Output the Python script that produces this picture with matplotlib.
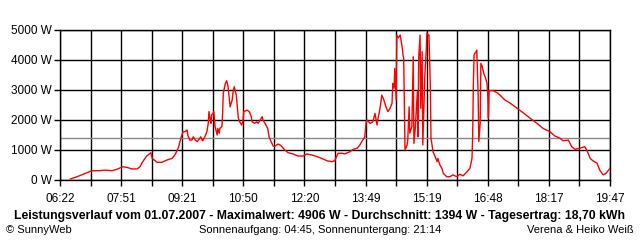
import numpy as np
import matplotlib
matplotlib.use('Agg')
import matplotlib.pyplot as plt

plt.rcParams['font.family'] = ['Liberation Sans', 'DejaVu Sans']

# Messwerte (Uhrzeit, Leistung in W)
zeiten = ['06:37', '06:47', '06:59', '07:09', '07:20', '07:28', '07:38', '07:45', '07:54', '08:00',
          '08:07', '08:15', '08:19', '08:23', '08:29', '08:35', '08:37', '08:44', '08:51', '08:59',
          '09:06', '09:10', '09:15', '09:19', '09:22', '09:25', '09:28', '09:29', '09:32', '09:35',
          '09:37', '09:40', '09:43', '09:44', '09:48', '09:50', '09:51', '09:54', '09:57', '09:59',
          '10:00', '10:02', '10:03', '10:04', '10:06', '10:07', '10:09', '10:12', '10:13', '10:15',
          '10:16', '10:19', '10:20', '10:21', '10:24', '10:26', '10:28', '10:29', '10:31', '10:34',
          '10:35', '10:37', '10:40', '10:41', '10:43', '10:45', '10:48', '10:50', '10:51', '10:56',
          '10:59', '11:02', '11:03', '11:07', '11:10', '11:12', '11:15', '11:18', '11:19', '11:22',
          '11:26', '11:28', '11:31', '11:34', '11:37', '11:41', '11:44', '11:47', '11:50', '11:51',
          '11:56', '12:03', '12:10', '12:18', '12:23', '12:31', '12:38', '12:45', '12:53', '13:00',
          '13:04', '13:09', '13:15', '13:19', '13:26', '13:31', '13:37', '13:41', '13:45', '13:48',
          '13:50', '13:51', '13:56', '14:00', '14:03', '14:06', '14:07', '14:10', '14:13', '14:16',
          '14:19', '14:22', '14:25', '14:28', '14:29', '14:31', '14:32', '14:34', '14:35', '14:37',
          '14:40', '14:43', '14:44', '14:45', '14:47', '14:50', '14:51', '14:53', '14:54', '14:57',
          '14:59', '15:00', '15:02', '15:05', '15:06', '15:07', '15:09', '15:10', '15:12', '15:13',
          '15:15', '15:16', '15:18', '15:19', '15:21', '15:22', '15:24', '15:25', '15:28', '15:31',
          '15:34', '15:35', '15:38', '15:41', '15:43', '15:48', '15:53', '15:57', '16:03', '16:07',
          '16:12', '16:18', '16:22', '16:25', '16:26', '16:27', '16:28', '16:31', '16:32', '16:34',
          '16:35', '16:37', '16:38', '16:40', '16:41', '16:43', '16:45', '16:47', '16:48', '16:49',
          '16:50', '16:56', '17:03', '17:06', '17:13', '17:21', '17:31', '17:40', '17:50', '18:00',
          '18:09', '18:19', '18:26', '18:34', '18:38', '18:46', '18:51', '18:56', '19:03', '19:10',
          '19:13', '19:18', '19:22', '19:28', '19:32', '19:37', '19:41', '19:47']
leistung = [30, 110, 220, 310, 310, 330, 310, 355, 440, 420,
            370, 370, 440, 610, 800, 910, 720, 590, 590, 670,
            720, 830, 1060, 1390, 1610, 1610, 1670, 1500, 1330, 1330,
            1440, 1330, 1280, 1310, 1440, 1330, 1310, 1440, 1610, 1890,
            2280, 2000, 1890, 2170, 2220, 2280, 1780, 1500, 1720, 1560,
            1720, 1780, 2220, 2890, 3220, 3310, 3110, 2890, 2440, 2670,
            2890, 3110, 2830, 2560, 2060, 1940, 1830, 2000, 2280, 2330,
            2280, 2110, 1940, 1890, 1940, 1890, 2000, 2110, 2000, 1890,
            1720, 1440, 1280, 1130, 1130, 1200, 1170, 1110, 1020, 1000,
            910, 870, 800, 800, 870, 830, 780, 720, 640, 610,
            640, 890, 890, 870, 940, 1020, 1060, 1170, 1330, 1420,
            1890, 2000, 1890, 1940, 2220, 1830, 2000, 2330, 2830, 2670,
            2440, 2280, 2390, 2560, 3220, 3060, 3720, 2670, 4830, 4740,
            4830, 4390, 4170, 4060, 1000, 1170, 1330, 2440, 1560, 1780,
            4110, 1220, 1720, 2940, 1440, 4060, 4830, 2390, 4280, 1170,
            2720, 3500, 4280, 4906, 4830, 4830, 3170, 1390, 940, 780,
            610, 720, 500, 390, 220, 110, 110, 170, 110, 190,
            140, 280, 390, 720, 1500, 3170, 4170, 4280, 4330, 2830,
            1280, 1890, 3890, 3780, 3670, 3500, 3390, 3220, 2890, 2060,
            2980, 2980, 2890, 2830, 2670, 2560, 2390, 2240, 2060, 1890,
            1720, 1610, 1470, 1390, 1310, 1330, 1110, 1020, 1060, 1110,
            1000, 720, 640, 560, 330, 170, 220, 390]

x_labels = ['06:22', '07:51', '09:21', '10:50', '12:20', '13:49', '15:19', '16:48', '18:17', '19:47']
y_ticks = [0, 1000, 2000, 3000, 4000, 5000]
durchschnitt = 1394

titel = 'Leistungsverlauf vom 01.07.2007 - Maximalwert: 4906 W - Durchschnitt: 1394 W - Tagesertrag: 18,70 kWh'
links = '\u00a9 SunnyWeb'
mitte = 'Sonnenaufgang: 04:45, Sonnenuntergang: 21:14'
rechts = 'Verena & Heiko Wei\u00df'


def to_min(s):
    h, m = s.split(':')
    return int(h) * 60 + int(m)


t = np.array([to_min(z) for z in zeiten])
t0 = to_min(x_labels[0])
t1 = to_min(x_labels[-1])

fig = plt.figure(figsize=(6.4, 2.4), dpi=100)
ax = fig.add_axes([60 / 640, 60 / 240, 550 / 640, 150 / 240])

major = np.linspace(t0, t1, len(x_labels))
minor = (major[:-1] + major[1:]) / 2
ax.set_xticks(major)
ax.set_xticklabels(x_labels)
ax.set_xticks(minor, minor=True)
ax.set_yticks(y_ticks)
ax.set_yticklabels(['%d W' % v for v in y_ticks])
ax.set_xlim(t0, t1)
ax.set_ylim(0, 5000)

ax.grid(True, which='both', color='black', lw=1)
ax.tick_params(which='both', direction='out', length=4, width=1, color='black',
               labelsize=8.5, pad=2)
ax.tick_params(axis='x', pad=5)
for s in ax.spines.values():
    s.set_color('black')
    s.set_linewidth(1)

ax.axhline(durchschnitt, color='#888888', lw=1, zorder=2.5)
ax.plot(t, leistung, color='red', lw=1, zorder=3)

fig.text(0.5, 24 / 240, titel, ha='center', va='center', fontsize=8.8, fontweight='bold')
fig.text(6 / 640, 10 / 240, links, ha='left', va='center', fontsize=8)
fig.text(0.5, 10 / 240, mitte, ha='center', va='center', fontsize=8)
fig.text(634 / 640, 10 / 240, rechts, ha='right', va='center', fontsize=8)

fig.savefig('out.png', dpi=100)
